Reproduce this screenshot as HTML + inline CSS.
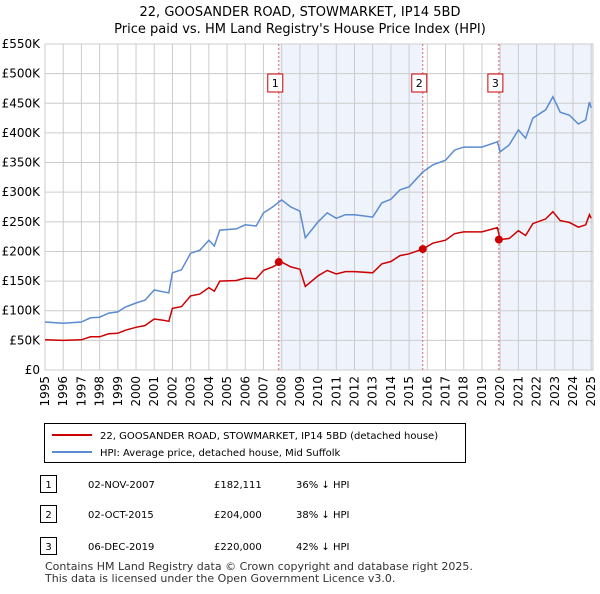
<!DOCTYPE html>
<html><head><meta charset="utf-8"><style>
body{margin:0;background:#fff;font-family:"DejaVu Sans",sans-serif;}
svg text{font-family:"DejaVu Sans",sans-serif;}
</style></head><body>
<svg id="chart" width="600" height="590" xmlns="http://www.w3.org/2000/svg">
<text x="300" y="16" text-anchor="middle" font-size="13">22, GOOSANDER ROAD, STOWMARKET, IP14 5BD</text>
<text x="300" y="33" text-anchor="middle" font-size="13">Price paid vs. HM Land Registry's House Price Index (HPI)</text>
<g id="plot"></g>
<g>
<rect x="44.5" y="423.5" width="421" height="39" fill="#fff" stroke="#000"/>
<line x1="52" y1="435" x2="92" y2="435" stroke="#cc0000" stroke-width="2"/>
<text x="100" y="439" font-size="10">22, GOOSANDER ROAD, STOWMARKET, IP14 5BD (detached house)</text>
<line x1="52" y1="452" x2="92" y2="452" stroke="#5b8bd0" stroke-width="2"/>
<text x="100" y="456" font-size="10">HPI: Average price, detached house, Mid Suffolk</text>
</g>
<g font-size="10">
<rect x="40.5" y="475.5" width="16" height="17" fill="#fff" stroke="#000"/><text x="48.5" y="488" text-anchor="middle">1</text>
<text x="88" y="488">02-NOV-2007</text><text x="214" y="488">£182,111</text><text x="296" y="488">36% ↓ HPI</text>
<rect x="40.5" y="505.5" width="16" height="17" fill="#fff" stroke="#000"/><text x="48.5" y="518" text-anchor="middle">2</text>
<text x="88" y="518">02-OCT-2015</text><text x="214" y="518">£204,000</text><text x="296" y="518">38% ↓ HPI</text>
<rect x="40.5" y="537.5" width="16" height="17" fill="#fff" stroke="#000"/><text x="48.5" y="550" text-anchor="middle">3</text>
<text x="88" y="550">06-DEC-2019</text><text x="214" y="550">£220,000</text><text x="296" y="550">42% ↓ HPI</text>
</g>
<text x="45" y="570" font-size="11" fill="#333">Contains HM Land Registry data © Crown copyright and database right 2025.</text>
<text x="45" y="582" font-size="11" fill="#333">This data is licensed under the Open Government Licence v3.0.</text>
</svg>
<script>
const dates=[1995,1996,1997,1997.5,1998,1998.5,1999,1999.4,2000,2000.5,2001,2001.5,2001.8,2002,2002.5,2003,2003.5,2004,2004.3,2004.6,2005.5,2006,2006.6,2007,2007.5,2008,2008.5,2009,2009.3,2010,2010.5,2011,2011.5,2012,2013,2013.5,2014,2014.5,2015,2015.75,2016.3,2017,2017.5,2018,2019,2019.85,2020,2020.5,2021,2021.4,2021.8,2022.5,2022.9,2023.3,2023.8,2024.3,2024.7,2024.9,2025];
const hpiValues=[81,79,81,88,89,96,98,106,113,118,135,132,130,164,169,197,202,219,209,236,238,245,243,265,275,287,275,268,223,250,265,256,262,262,258,282,288,304,309,334,346,354,371,376,376,385,368,380,405,391,425,439,461,435,430,415,422,452,442];
const propertyValues=[51,50,51,56,56,61,62,67,72,75,86,84,82,104,107,125,128,139,133,150,151,155,154,168,174,182,174,170,141,159,168,162,166,166,164,179,183,193,196,204,214,219,230,233,233,240,220,222,235,227,247,255,267,252,249,241,245,262,256];
const saleDates=[2007.84,2015.75,2019.93];
const saleValues=[182.111,204,220];
const saleLabels=["1","2","3"];
const yTicks=[0,50,100,150,200,250,300,350,400,450,500,550];
const yTickLabels=["£0","£50K","£100K","£150K","£200K","£250K","£300K","£350K","£400K","£450K","£500K","£550K"];
const xTicks=[1995,1996,1997,1998,1999,2000,2001,2002,2003,2004,2005,2006,2007,2008,2009,2010,2011,2012,2013,2014,2015,2016,2017,2018,2019,2020,2021,2022,2023,2024,2025];

const X0=45,X1=593,Y0=370,Y1=44,xmin=1995,xmax=2025.1,ymax=550;
const sx=v=>X0+(v-xmin)/(xmax-xmin)*(X1-X0);
const sy=v=>Y0-v/ymax*(Y0-Y1);
const NS="http://www.w3.org/2000/svg";
const g=document.getElementById('plot');
function mk(t,a){const e=document.createElementNS(NS,t);for(const k in a)e.setAttribute(k,a[k]);g.appendChild(e);return e;}
const sh1=mk('rect',{x:sx(saleDates[0]),y:Y1,width:sx(saleDates[1])-sx(saleDates[0]),height:Y0-Y1,fill:'#eef3fc'});


const sh2=mk('rect',{x:sx(saleDates[2]),y:Y1,width:X1-sx(saleDates[2]),height:Y0-Y1,fill:'#eef3fc'});


yTicks.forEach((v,i)=>{
  const l=mk('line',{x1:X0,x2:X1,y1:sy(v),y2:sy(v),stroke:'#cccccc'});
  
  
  const t=mk('text',{x:40,y:sy(v)+4,'text-anchor':'end','font-size':'12'});
  t.textContent=yTickLabels[i];
  
  
});
xTicks.forEach(v=>{
  const l=mk('line',{x1:sx(v),x2:sx(v),y1:Y1,y2:Y0,stroke:'#cccccc'});
  
  
  const t=mk('text',{x:0,y:0,'font-size':'12','text-anchor':'end',transform:`translate(${sx(v)+4},${Y0+6}) rotate(-90)`});
  t.textContent=v;
  
  
});
const border=mk('rect',{x:X0,y:Y1,width:X1-X0,height:Y0-Y1,fill:'none',stroke:'#cccccc'});


saleDates.forEach((d,i)=>{
  const l=mk('line',{x1:sx(d),x2:sx(d),y1:Y1,y2:Y0,stroke:'#e06666','stroke-dasharray':'2,2'});
  
  
});
const pts=a=>a.map((v,i)=>sx(dates[i]).toFixed(1)+','+sy(v).toFixed(1)).join(' ');
const hp=mk('polyline',{points:pts(hpiValues),fill:'none',stroke:'#5b8bd0','stroke-width':1.5});


const pp=mk('polyline',{points:pts(propertyValues),fill:'none',stroke:'#cc0000','stroke-width':1.5});


saleDates.forEach((d,i)=>{
  const c=mk('circle',{cx:sx(d),cy:sy(saleValues[i]),r:4,fill:'#cc0000'});
  
  
  const b=mk('rect',{x:sx(d)-11,y:74,width:15,height:18,fill:'#fff',stroke:'#cc0000'});
  
  
  const t=mk('text',{x:sx(d)-3.5,y:87,'text-anchor':'middle','font-size':'11'});
  t.textContent=saleLabels[i];
  
  
});
</script>
</body></html>
